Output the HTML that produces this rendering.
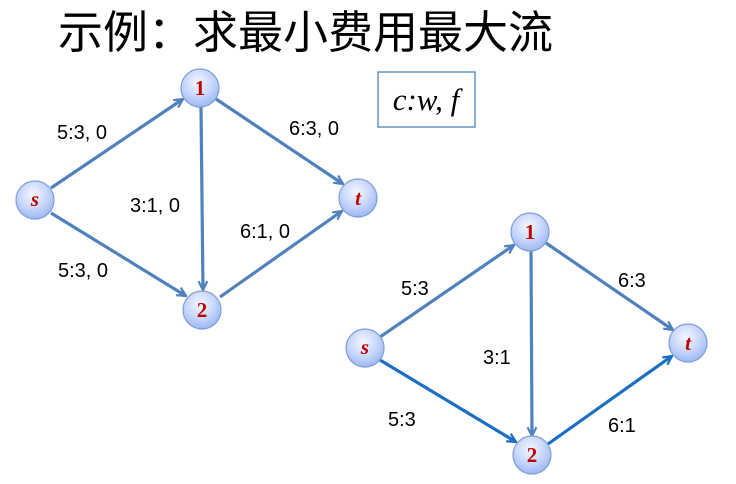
<!DOCTYPE html>
<html><head><meta charset="utf-8"><style>
html,body{margin:0;padding:0;background:#fff;width:736px;height:484px;overflow:hidden}
</style></head><body>
<svg width="736" height="484" xmlns="http://www.w3.org/2000/svg">
<defs>
<radialGradient id="g" cx="45%" cy="35%" r="65%">
<stop offset="0" stop-color="#f4f7ff"/><stop offset="0.6" stop-color="#c5d5fb"/><stop offset="1" stop-color="#9db8f2"/>
</radialGradient>
<marker id="a" viewBox="0 0 10 10" refX="9" refY="5" markerWidth="11" markerHeight="11" orient="auto" markerUnits="userSpaceOnUse">
<path d="M1,1 L9,5 L1,9" fill="none" stroke="#4f81bd" stroke-width="2"/>
</marker>
<marker id="b" viewBox="0 0 10 10" refX="9" refY="5" markerWidth="11" markerHeight="11" orient="auto" markerUnits="userSpaceOnUse">
<path d="M1,1 L9,5 L1,9" fill="none" stroke="#1a6fc0" stroke-width="2"/>
</marker>
</defs>
<text x="58" y="48" font-family="'Liberation Sans','Noto Sans CJK SC',sans-serif" font-size="45" fill="#000">示例：求最小费用最大流</text>
<rect x="378" y="72" width="97" height="55" fill="#fff" stroke="#4f81bd" stroke-width="1.3"/>
<text x="426" y="110" text-anchor="middle" font-family="'Liberation Serif',serif" font-style="italic" font-size="31">c:w, f</text>
<g stroke="#4f81bd" stroke-width="3.2" fill="none">
<line x1="51" y1="188" x2="183" y2="99" marker-end="url(#a)"/>
<line x1="51" y1="213" x2="186" y2="296" marker-end="url(#a)"/>
<line x1="201" y1="107" x2="203" y2="290" marker-end="url(#a)"/>
<line x1="216" y1="99" x2="343" y2="184" marker-end="url(#a)"/>
<line x1="220" y1="297" x2="342" y2="211" marker-end="url(#a)"/>
<line x1="380" y1="337" x2="514" y2="245" marker-end="url(#a)"/>
<line x1="531" y1="251" x2="532" y2="436" marker-end="url(#a)"/>
<line x1="546" y1="243" x2="673" y2="330" marker-end="url(#a)"/>
</g>
<g stroke="#1a6fc0" stroke-width="3.2" fill="none">
<line x1="380" y1="360" x2="516" y2="442" marker-end="url(#b)"/>
<line x1="548" y1="444" x2="672" y2="356" marker-end="url(#b)"/>
</g>
<g stroke="#7f9fd6" stroke-width="1.2" fill="url(#g)">
<circle cx="200" cy="88" r="19"/><circle cx="35" cy="200" r="19"/><circle cx="358" cy="198" r="19"/><circle cx="202" cy="310" r="19"/>
<circle cx="530" cy="232" r="19"/><circle cx="365" cy="348" r="19"/><circle cx="688" cy="343" r="19"/><circle cx="532" cy="455" r="19"/>
</g>
<g font-family="'Liberation Serif',serif" font-weight="bold" font-size="21" fill="#c00000" text-anchor="middle">
<text x="200" y="95">1</text><text x="35" y="206" font-style="italic">s</text><text x="358" y="205" font-style="italic">t</text><text x="202" y="317">2</text>
<text x="530" y="239">1</text><text x="365" y="354" font-style="italic">s</text><text x="688" y="350" font-style="italic">t</text><text x="532" y="462">2</text>
</g>
<g font-family="'Liberation Sans',sans-serif" font-size="20" fill="#000">
<text x="57" y="139">5:3, 0</text>
<text x="289" y="135">6:3, 0</text>
<text x="130" y="212">3:1, 0</text>
<text x="240" y="238">6:1, 0</text>
<text x="58" y="277">5:3, 0</text>
<text x="401" y="295">5:3</text>
<text x="618" y="287">6:3</text>
<text x="483" y="364">3:1</text>
<text x="388" y="426">5:3</text>
<text x="608" y="432">6:1</text>
</g>
</svg>
</body></html>
